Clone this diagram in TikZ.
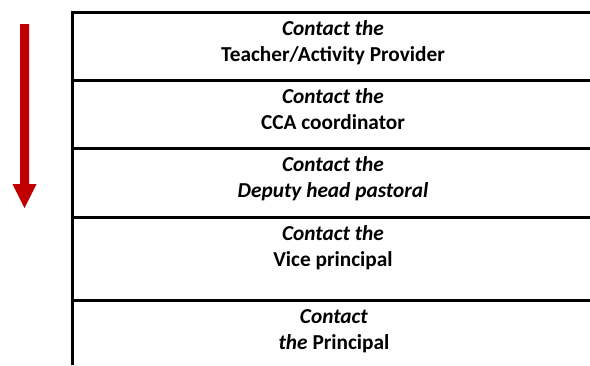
\documentclass[tikz,border=0pt]{standalone}
\usepackage{fontspec}
\setmainfont{Carlito}
\definecolor{arrowred}{HTML}{C00000}

\begin{document}
\begin{tikzpicture}[x=1pt, y=-1pt]

      \tikzstyle{step_text} = [anchor=base, align=center, inner sep=0pt, font=\bfseries\fontsize{21.3}{26}\selectfont]
      \tikzstyle{rule} = [line width=3pt, line join=miter]

      \useasboundingbox (0,0) rectangle (590,365);

      \draw
        (333, 61.0) node[step_text] (0){\textit{Contact the}\\Teacher/Activity Provider}
        (333, 129.0) node[step_text] (1){\textit{Contact the}\\CCA coordinator}
        (333, 197.0) node[step_text] (2){\textit{Contact the}\\\textit{Deputy head pastoral}}
        (333, 266.0) node[step_text] (3){\textit{Contact the}\\Vice principal}
        (334, 349.0) node[step_text] (4){\textit{Contact}\\\textit{the} Principal};

      \begin{scope}[rule]
        \draw (590, 12.5) -- (72, 12.5) -- (72, 365);
        \draw (72, 80.5) -- (590, 80.5);
        \draw (72, 148.5) -- (590, 148.5);
        \draw (72, 217.5) -- (590, 217.5);
        \draw (72, 300.5) -- (590, 300.5);
      \end{scope}

      % escalation arrow
      \fill[arrowred] (20, 24) -- (29, 24) -- (29, 184) -- (36.5, 184) -- (24.5, 208) -- (12.5, 184) -- (20, 184) -- cycle;
    \end{tikzpicture}
\end{document}
